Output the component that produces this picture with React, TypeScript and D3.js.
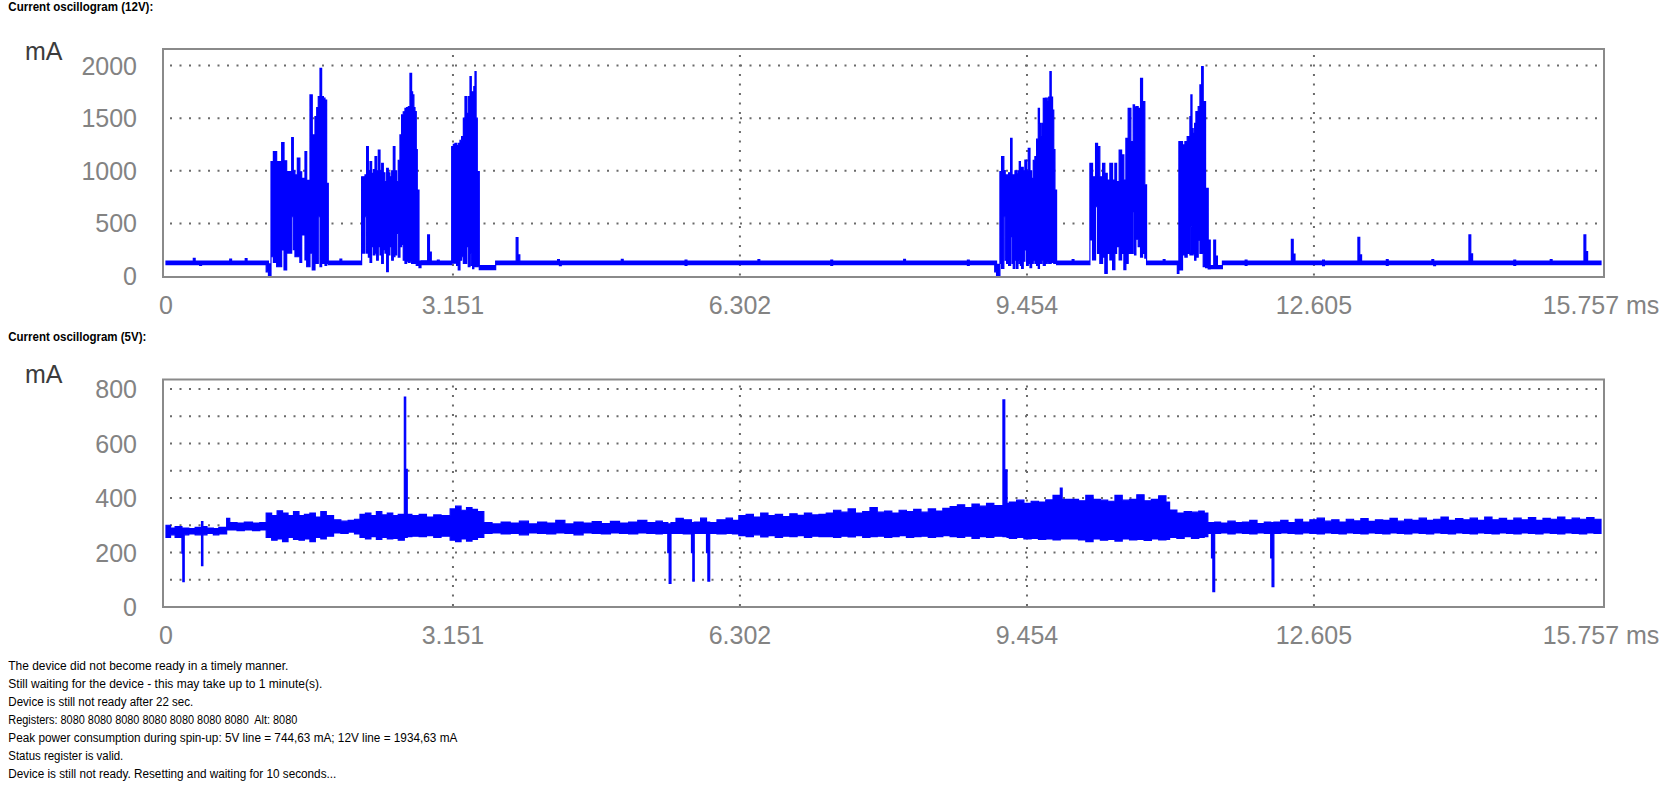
import React from 'react';
import * as d3 from 'd3';

// [ms, min mA, max mA] — min/max envelope of the scope trace, read per short interval
type Env = [number, number, number];

const X_TICKS = [0, 3.151, 6.302, 9.454, 12.605, 15.757];
const X_TICK_LABELS = ['0', '3.151', '6.302', '9.454', '12.605', '15.757 ms'];

const Y12_TICKS = [0, 500, 1000, 1500, 2000];
const Y12_GRID = [500, 1000, 1500, 2000];
const Y5_TICKS = [0, 200, 400, 600, 800];
const Y5_GRID = [100, 200, 300, 400, 500, 600, 700, 800];

const env12: Env[] = [
  [0.0, 108, 142], [0.3, 108, 168], [0.32, 108, 142], [0.37, 100, 142], [0.39, 108, 142],
  [0.7, 108, 160], [0.72, 108, 142], [0.87, 108, 165], [0.89, 108, 142],
  [1.1, 40, 142], [1.125, 0, 115],
  // burst 1
  [1.153, 183, 1086], [1.179, 130, 1181], [1.215, 88, 1086], [1.27, 247, 1267], [1.296, 57, 1095],
  [1.325, 218, 991], [1.38, 563, 1314], [1.398, 250, 1000], [1.416, 183, 960], [1.442, 183, 1121],
  [1.47, 130, 990], [1.49, 390, 928], [1.526, 152, 1181], [1.545, 88, 909], [1.581, 218, 1720],
  [1.606, 57, 1340], [1.636, 120, 1514], [1.655, 120, 1600], [1.672, 563, 1704], [1.691, 88, 1973],
  [1.709, 120, 1704], [1.728, 120, 1690], [1.746, 100, 1672], [1.764, 120, 880],
  [1.782, 108, 142], [1.91, 108, 160], [1.93, 108, 142],
  // burst 2
  [2.148, 218, 943], [2.185, 563, 960], [2.203, 218, 1229], [2.222, 180, 1000], [2.24, 130, 1086],
  [2.258, 279, 975], [2.277, 200, 1010], [2.295, 218, 1134], [2.313, 150, 1000], [2.331, 279, 1197],
  [2.35, 200, 1000], [2.368, 120, 1070], [2.386, 250, 980], [2.404, 218, 896], [2.423, 41, 1023],
  [2.441, 200, 980], [2.459, 279, 943], [2.478, 150, 1000], [2.496, 183, 1229], [2.514, 200, 1000],
  [2.532, 405, 896], [2.55, 180, 1100], [2.569, 279, 1340], [2.587, 300, 1530], [2.605, 150, 1560],
  [2.624, 120, 1593], [2.642, 140, 1600], [2.661, 130, 1609], [2.679, 135, 1926], [2.697, 120, 1750],
  [2.708, 120, 1720], [2.722, 120, 1600], [2.734, 120, 1561], [2.748, 100, 1200], [2.759, 100, 817],
  [2.778, 80, 142], [2.8, 108, 145], [2.873, 108, 390], [2.893, 108, 228], [2.913, 108, 142],
  [2.98, 108, 150], [3.0, 108, 142],
  // burst 3
  [3.137, 122, 1229], [3.155, 122, 1250], [3.173, 122, 1260], [3.191, 100, 1240], [3.209, 57, 1260],
  [3.228, 150, 1290], [3.246, 183, 1324], [3.265, 120, 1500], [3.283, 120, 1704], [3.301, 279, 1546],
  [3.319, 88, 1704], [3.338, 218, 1894], [3.352, 100, 1750], [3.367, 70, 1735], [3.38, 90, 1800],
  [3.393, 100, 1941], [3.405, 90, 1500], [3.418, 88, 991],
  [3.44, 60, 100], [3.62, 108, 142], [3.845, 108, 364], [3.865, 108, 200], [3.885, 108, 142],
  [4.3, 108, 155], [4.32, 98, 142], [4.34, 108, 142], [5.0, 108, 158], [5.02, 108, 142],
  [5.7, 100, 150], [5.72, 108, 142], [6.5, 108, 155], [6.52, 108, 142], [7.3, 100, 152],
  [7.32, 108, 142], [8.1, 108, 158], [8.12, 108, 142], [8.8, 100, 150], [8.82, 108, 142],
  [9.1, 40, 142], [9.12, 0, 110],
  // burst 4
  [9.157, 120, 991], [9.175, 73, 1134], [9.2, 563, 1002], [9.215, 150, 960], [9.23, 120, 960],
  [9.252, 100, 980], [9.274, 374, 1308], [9.29, 120, 960], [9.303, 73, 960], [9.322, 150, 1000],
  [9.34, 73, 970], [9.355, 150, 1000], [9.369, 120, 1086], [9.382, 100, 1000], [9.395, 73, 1033],
  [9.413, 140, 1000], [9.431, 247, 1102], [9.45, 100, 1000], [9.468, 120, 1213], [9.487, 80, 1000],
  [9.505, 120, 928], [9.523, 150, 1100], [9.541, 120, 1134], [9.56, 100, 1300], [9.578, 73, 1593],
  [9.591, 130, 1450], [9.604, 120, 1324], [9.618, 150, 1450], [9.633, 100, 1688], [9.655, 120, 1690],
  [9.677, 140, 1656], [9.692, 120, 1700], [9.706, 120, 1941], [9.72, 130, 1700], [9.735, 140, 1577],
  [9.748, 120, 1200], [9.761, 120, 817],
  [9.779, 108, 142], [9.95, 108, 155], [9.97, 108, 142],
  // burst 5
  [10.145, 342, 1070], [10.174, 152, 943], [10.207, 658, 1260], [10.229, 215, 1229], [10.254, 120, 943],
  [10.284, 180, 1070], [10.309, 25, 975], [10.335, 215, 912], [10.364, 152, 1070], [10.394, 60, 912],
  [10.419, 215, 1070], [10.438, 280, 896], [10.466, 152, 1197], [10.493, 215, 1150], [10.518, 60, 912],
  [10.54, 120, 1308], [10.565, 215, 1593], [10.595, 215, 1277], [10.62, 611, 1625], [10.635, 200, 1600],
  [10.65, 350, 1609], [10.675, 280, 1593], [10.701, 180, 1878], [10.723, 215, 1656], [10.748, 170, 865],
  [10.767, 108, 142], [10.95, 108, 155], [10.97, 108, 142], [11.105, 25, 142],
  // burst 6
  [11.122, 57, 1276], [11.162, 200, 1245], [11.188, 180, 1277], [11.213, 215, 1324], [11.243, 200, 1514],
  [11.254, 468, 1720], [11.266, 200, 1400], [11.279, 215, 1356], [11.295, 150, 1450], [11.309, 180, 1561],
  [11.334, 340, 1609], [11.353, 215, 1815], [11.372, 215, 1989], [11.389, 90, 1656], [11.415, 80, 833],
  [11.444, 67, 342],
  [11.466, 70, 100], [11.505, 70, 342], [11.525, 70, 190], [11.545, 70, 100], [11.6, 108, 142],
  [11.85, 100, 150], [11.87, 108, 142], [12.357, 108, 349], [12.377, 108, 209], [12.397, 108, 142],
  [12.7, 98, 150], [12.72, 108, 142], [13.088, 108, 368], [13.108, 108, 200], [13.128, 108, 142],
  [13.4, 100, 155], [13.42, 108, 142], [13.9, 108, 155], [13.92, 98, 142], [13.94, 108, 142],
  [14.307, 108, 390], [14.327, 108, 210], [14.347, 108, 142], [14.8, 100, 150], [14.82, 108, 142],
  [15.2, 108, 155], [15.22, 108, 142], [15.57, 108, 390], [15.59, 108, 231], [15.61, 108, 142],
  [15.757, 108, 142],
];

const env5: Env[] = [
  [0.0, 255, 300], [0.05, 265, 290], [0.1, 255, 295], [0.175, 198, 290], [0.185, 93, 290],
  [0.2, 265, 290], [0.25, 268, 288], [0.32, 265, 292], [0.39, 152, 313], [0.405, 265, 295],
  [0.45, 270, 290], [0.52, 265, 288], [0.58, 268, 292],
  [0.666, 283, 325], [0.7, 283, 310], [0.78, 280, 308], [0.86, 283, 312], [0.95, 280, 308], [1.03, 283, 310],
  [1.1, 255, 345], [1.16, 245, 335], [1.22, 250, 353], [1.28, 240, 345], [1.34, 255, 335], [1.4, 248, 350],
  [1.46, 245, 335], [1.52, 250, 340], [1.58, 240, 345], [1.64, 255, 330], [1.7, 250, 350], [1.76, 260, 335],
  [1.84, 272, 320], [1.92, 270, 315], [2.0, 275, 318], [2.07, 268, 322],
  [2.13, 255, 340], [2.19, 250, 345], [2.25, 258, 335], [2.31, 248, 350], [2.37, 255, 338], [2.43, 250, 345],
  [2.49, 252, 335], [2.55, 245, 340], [2.617, 255, 770], [2.632, 255, 505], [2.649, 258, 340],
  [2.7, 260, 335], [2.78, 258, 340], [2.86, 262, 330], [2.94, 255, 338], [3.02, 260, 335],
  [3.12, 245, 360], [3.18, 240, 370], [3.24, 250, 355], [3.3, 242, 365], [3.36, 248, 358], [3.42, 255, 350],
  [3.49, 270, 310], [3.58, 272, 305], [3.68, 268, 312], [3.78, 270, 308], [3.88, 265, 315], [3.98, 272, 305],
  [4.08, 270, 312], [4.18, 268, 308], [4.28, 272, 318], [4.38, 270, 305], [4.48, 265, 312], [4.58, 272, 308],
  [4.68, 270, 313], [4.78, 268, 306], [4.88, 272, 314], [4.98, 270, 308], [5.08, 268, 312], [5.18, 272, 318],
  [5.28, 270, 310], [5.38, 268, 315], [5.45, 270, 310],
  [5.51, 199, 305], [5.525, 87, 305], [5.545, 270, 310], [5.6, 270, 325], [5.68, 268, 320],
  [5.77, 199, 310], [5.785, 95, 310], [5.8, 270, 312], [5.87, 270, 326],
  [5.935, 199, 312], [5.95, 95, 312], [5.97, 270, 310], [6.05, 268, 320], [6.15, 270, 326], [6.22, 268, 318],
  [6.29, 262, 335], [6.37, 258, 340], [6.45, 265, 330], [6.53, 257, 345], [6.61, 262, 335], [6.69, 255, 340],
  [6.77, 260, 332], [6.85, 258, 342], [6.93, 262, 336], [7.01, 255, 345], [7.09, 260, 338], [7.17, 258, 340],
  [7.25, 258, 345], [7.33, 255, 355], [7.41, 260, 348], [7.49, 257, 360], [7.57, 262, 345], [7.65, 255, 350],
  [7.73, 258, 365], [7.81, 260, 348], [7.89, 255, 352], [7.97, 258, 345], [8.05, 262, 355], [8.13, 255, 350],
  [8.21, 258, 358], [8.29, 260, 348], [8.37, 255, 360], [8.45, 258, 352], [8.53, 262, 362],
  [8.61, 258, 368], [8.69, 255, 375], [8.77, 260, 365], [8.85, 252, 378], [8.93, 258, 370], [9.01, 255, 380],
  [9.09, 260, 372], [9.19, 258, 760], [9.21, 258, 503], [9.235, 255, 380],
  [9.26, 252, 385], [9.34, 255, 392], [9.42, 250, 380], [9.5, 252, 388], [9.58, 248, 385],
  [9.66, 250, 393], [9.74, 246, 410], [9.82, 250, 436], [9.84, 250, 395], [9.94, 250, 395], [10.02, 246, 390],
  [10.1, 240, 410], [10.18, 250, 395], [10.26, 245, 392], [10.34, 248, 388], [10.42, 242, 410], [10.5, 250, 392],
  [10.58, 246, 395], [10.66, 248, 412], [10.74, 244, 390], [10.82, 250, 395], [10.9, 246, 408], [10.98, 248, 385],
  [11.02, 255, 356], [11.1, 252, 345], [11.18, 258, 350], [11.26, 252, 348], [11.34, 255, 352], [11.4, 258, 345],
  [11.44, 270, 310], [11.48, 180, 310], [11.495, 56, 310], [11.515, 270, 312],
  [11.58, 272, 308], [11.66, 268, 315], [11.74, 272, 310], [11.82, 270, 312], [11.9, 268, 318], [11.98, 272, 306],
  [12.06, 270, 312], [12.13, 180, 310], [12.145, 75, 310], [12.165, 270, 312],
  [12.24, 272, 318], [12.32, 270, 310], [12.4, 268, 322], [12.48, 272, 312],
  [12.56, 270, 320], [12.64, 268, 326], [12.72, 272, 315], [12.8, 270, 320], [12.88, 268, 312], [12.96, 272, 322],
  [13.04, 270, 316], [13.12, 268, 324], [13.2, 272, 314], [13.28, 270, 320], [13.36, 268, 318], [13.44, 272, 325],
  [13.52, 270, 315], [13.6, 268, 322], [13.68, 272, 318], [13.76, 270, 326], [13.84, 268, 318], [13.92, 272, 322],
  [14.0, 270, 330], [14.08, 268, 318], [14.16, 272, 324], [14.24, 270, 320], [14.32, 268, 326], [14.4, 272, 318],
  [14.48, 270, 330], [14.56, 268, 320], [14.64, 272, 325], [14.72, 270, 318], [14.8, 268, 326], [14.88, 272, 320],
  [14.96, 270, 328], [15.04, 268, 318], [15.12, 272, 325], [15.2, 270, 322], [15.28, 268, 330], [15.36, 272, 320],
  [15.44, 270, 326], [15.52, 268, 322], [15.6, 272, 328], [15.68, 270, 322], [15.757, 270, 322],
];

const LOG_LINES = [
  'The device did not become ready in a timely manner.',
  'Still waiting for the device - this may take up to 1 minute(s).',
  'Device is still not ready after 22 sec.',
  'Registers: 8080 8080 8080 8080 8080 8080 8080  Alt: 8080',
  'Peak power consumption during spin-up: 5V line = 744,63 mA; 12V line = 1934,63 mA',
  'Status register is valid.',
  'Device is still not ready. Resetting and waiting for 10 seconds...',
];
// measured pixel widths of the log lines in the screenshot
const LOG_WIDTHS = [280, 314, 185, 289, 449, 115, 328];

const FONT = "'Liberation Sans', Arial, sans-serif";
const GRID = '#6a6a6a';
const LABEL = '#838383';

const x = d3.scaleLinear().domain([0, 15.757]).range([166, 1601]);

type ScopeProps = {
  title: string;
  titleY: number;
  titleW: number;
  frameTop: number;
  frameBottom: number;
  y0: number;
  yTop: number;
  yMax: number;
  ticks: number[];
  grid: number[];
  data: Env[];
};

function Scope(p: ScopeProps) {
  const y = d3.scaleLinear().domain([0, p.yMax]).range([p.y0, p.yTop]);
  const area = d3.area<Env>()
    .x((d) => x(d[0]))
    .y0((d) => y(d[1]))
    .y1((d) => y(d[2]))
    .curve(d3.curveStepAfter);
  const left = 163;
  const right = 1604;

  return (
    <g>
      <text x={8.3} y={p.titleY} fontFamily={FONT} fontWeight="bold" fontSize={12}
        textLength={p.titleW} lengthAdjust="spacingAndGlyphs" fill="#000">{p.title}</text>
      <text x={25} y={p.yTop - 6} fontFamily={FONT} fontSize={25} fill="#3c3c3c">mA</text>

      {/* dotted grid */}
      {p.grid.map((v) => (
        <line key={`h${v}`} x1={170} x2={1598} y1={y(v)} y2={y(v)}
          stroke={GRID} strokeWidth={2} strokeDasharray="2 7.5" />
      ))}
      {X_TICKS.slice(1, -1).map((t) => (
        <line key={`v${t}`} x1={x(t)} x2={x(t)} y1={p.frameTop + 6} y2={p.frameBottom}
          stroke={GRID} strokeWidth={2} strokeDasharray="2 7.5" />
      ))}

      {/* trace */}
      <path d={area(p.data) ?? ''} fill="#0000ff" stroke="#0000ff" strokeWidth={1.2} />

      <rect x={left} y={p.frameTop} width={right - left} height={p.frameBottom - p.frameTop}
        fill="none" stroke="#8a8a8a" strokeWidth={2} />

      {p.ticks.map((v) => (
        <text key={`y${v}`} x={137} y={y(v) + 9} textAnchor="end" fontFamily={FONT}
          fontSize={25} fill={LABEL}>{v}</text>
      ))}
      {X_TICKS.map((t, i) => (
        <text key={`x${t}`} x={x(t)} y={p.frameBottom + 37} textAnchor="middle" fontFamily={FONT}
          fontSize={25} fill={LABEL}>{X_TICK_LABELS[i]}</text>
      ))}
    </g>
  );
}

export default function App() {
  return (
    <svg width={1678} height={791} style={{ position: 'absolute', left: 0, top: 0, background: '#fff' }}>
      <rect width={1678} height={791} fill="#fff" />
      <Scope title="Current oscillogram (12V):" titleY={10.5} titleW={145} frameTop={49} frameBottom={277}
        y0={276} yTop={65.5} yMax={2000} ticks={Y12_TICKS} grid={Y12_GRID} data={env12} />
      <Scope title="Current oscillogram (5V):" titleY={340.5} titleW={138} frameTop={379.5} frameBottom={607}
        y0={607} yTop={389} yMax={800} ticks={Y5_TICKS} grid={Y5_GRID} data={env5} />
      {LOG_LINES.map((line, i) => (
        <text key={i} x={8.3} y={670 + i * 17.95} fontFamily={FONT} fontSize={12} fill="#000"
          textLength={LOG_WIDTHS[i]} lengthAdjust="spacingAndGlyphs" style={{ whiteSpace: 'pre' }}>{line}</text>
      ))}
    </svg>
  );
}
